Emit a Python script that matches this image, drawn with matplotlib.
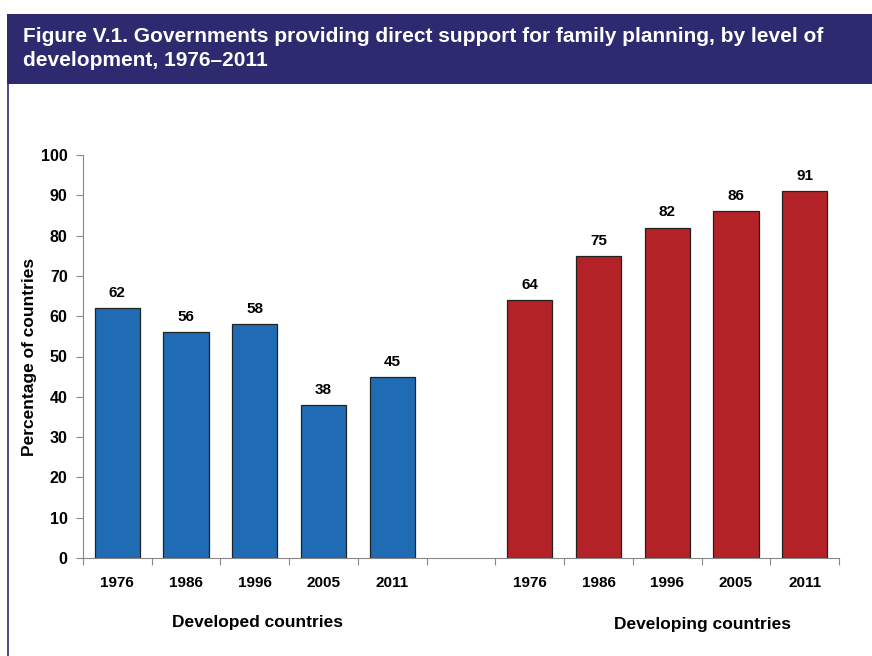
import matplotlib.pyplot as plt
from matplotlib.patches import Rectangle
from matplotlib.lines import Line2D

years = ["1976", "1986", "1996", "2005", "2011"]
developed = [62, 56, 58, 38, 45]
developing = [64, 75, 82, 86, 91]
group_names = ["Developed countries", "Developing countries"]

title = ("Figure V.1. Governments providing direct support for family planning, by level of\n"
         "development, 1976\u20132011")

plt.rcParams["font.family"] = ["Liberation Sans", "DejaVu Sans"]
plt.rcParams["font.weight"] = "bold"

fig = plt.figure(figsize=(8.72, 6.56), dpi=100)
W, H = 872, 656

# title band and frame line
fig.patches.append(Rectangle((7 / W, 1 - 84 / H), 1 - 7 / W, 70 / H,
                             transform=fig.transFigure, facecolor="#2E2A70",
                             edgecolor="none"))
fig.lines.append(Line2D([8 / W, 8 / W], [0, 1 - 84 / H], transform=fig.transFigure,
                        color="#2E2A70", lw=1.2))
fig.text(23 / W, 1 - 27 / H, title, color="white", fontsize=15, fontweight="bold",
         va="top", ha="left", linespacing=1.35)

ax = fig.add_axes([83 / W, (H - 558) / H, (839 - 83) / W, (558 - 155) / H])

blue = "#1F6CB4"
red = "#B22227"
xs_dev = list(range(5))
xs_dvg = [i + 6 for i in range(5)]
width = 0.66

ax.bar(xs_dev, developed, width=width, color=blue, edgecolor="#222222", linewidth=0.9)
ax.bar(xs_dvg, developing, width=width, color=red, edgecolor="#222222", linewidth=0.9)

for x, v in zip(xs_dev + xs_dvg, developed + developing):
    ax.text(x, v + 2, str(v), ha="center", va="bottom", fontsize=11, fontweight="bold")

ax.set_xlim(-0.5, 10.5)
ax.set_ylim(0, 100)
ax.set_yticks(range(0, 101, 10))
ax.set_xticks([i - 0.5 for i in range(12)])
ax.set_xticklabels([])
ax.set_xticks(xs_dev + xs_dvg, minor=True)
ax.set_xticklabels(years + years, minor=True)
ax.tick_params(axis="x", which="minor", length=0, pad=13, labelsize=11)
ax.tick_params(axis="x", which="major", length=5, color="#888888", direction="out")
ax.tick_params(axis="y", length=5, color="#888888", labelsize=11.5, pad=6)
for lbl in ax.get_yticklabels() + ax.get_xticklabels(minor=True):
    lbl.set_fontweight("bold")

for side in ["top", "right"]:
    ax.spines[side].set_visible(False)
for side in ["left", "bottom"]:
    ax.spines[side].set_color("#888888")

ax.set_ylabel("Percentage of countries", fontsize=12.5, fontweight="bold")
ax.yaxis.set_label_coords(-(83 - 37) / (839 - 83), (558 - 357) / (558 - 155))

fig.text(257 / W, 1 - 623 / H, group_names[0], ha="center", va="center",
         fontsize=12.5, fontweight="bold")
fig.text(702 / W, 1 - 624 / H, group_names[1], ha="center", va="center",
         fontsize=12.5, fontweight="bold")

fig.savefig("out.png", dpi=100)
